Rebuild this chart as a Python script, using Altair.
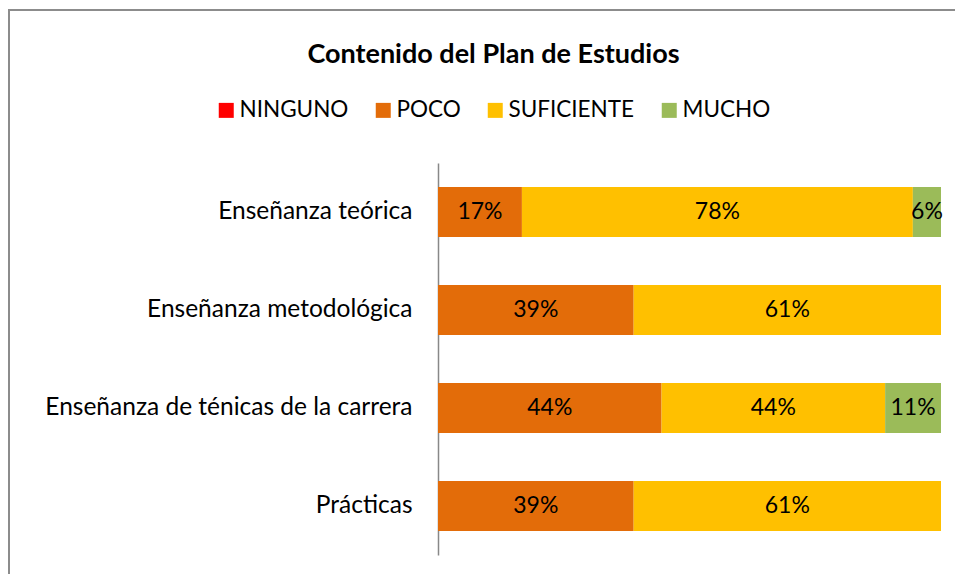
import altair as alt
import pandas as pd

categories = ["Enseñanza teórica", "Enseñanza metodológica",
              "Enseñanza de ténicas de la carrera", "Prácticas"]
levels = ["NINGUNO", "POCO", "SUFICIENTE", "MUCHO"]
colors = ["#FF0000", "#E36C09", "#FFC000", "#9BBB59"]
ninguno = [0, 0, 0, 0]
poco = [16.7, 38.9, 44.4, 38.9]
suficiente = [77.8, 61.1, 44.4, 61.1]
mucho = [5.6, 0, 11.1, 0]

rows = []
for i, c in enumerate(categories):
    for j, (lv, vals) in enumerate(zip(levels, [ninguno, poco, suficiente, mucho])):
        rows.append({"cat": c, "level": lv, "ord": j, "pct": vals[i]})
df = pd.DataFrame(rows)

FONT = "Lato"

base = alt.Chart(df).transform_filter("datum.pct > 0")

ycat = alt.Y("cat:N", sort=categories, title=None,
             scale=alt.Scale(paddingInner=0.49, paddingOuter=0.245),
             axis=alt.Axis(domainColor="#888888", domainWidth=1.5, ticks=False,
                           labelPadding=26, labelFontSize=24.5, labelFont=FONT,
                           labelColor="#000000", labelLimit=500))

bars = alt.Chart(df).mark_bar().encode(
    y=ycat,
    x=alt.X("pct:Q", stack="normalize", axis=None, scale=alt.Scale(domain=[0, 1])),
    color=alt.Color("level:N", sort=levels,
                    scale=alt.Scale(domain=levels, range=colors),
                    legend=alt.Legend(title=None, orient="none", direction="horizontal",
                                      legendX=-223, legendY=-64,
                                      symbolType="square", symbolSize=225,
                                      symbolStrokeWidth=0, symbolOpacity=1,
                                      labelFontSize=22.5, labelFont=FONT,
                                      labelColor="#000000", columnPadding=23,
                                      labelOffset=2)),
    order=alt.Order("ord:Q"),
)

labels = base.transform_stack(
    stack="pct", groupby=["cat"], as_=["x0", "x1"], sort=[alt.SortField("ord")],
    offset="normalize"
).transform_calculate(
    mid="(datum.x0 + datum.x1) / 2",
    lbl="format(datum.pct, '.0f') + '%'"
).mark_text(fontSize=23, font=FONT, color="#000000").encode(
    y=alt.Y("cat:N", sort=categories),
    x=alt.X("mid:Q"),
    text="lbl:N",
)

frame = alt.Chart(pd.DataFrame({"a": [0]})).mark_rect(
    fill=None, stroke="#8c8c8c", strokeWidth=2
).encode(x=alt.value(-429), x2=alt.value(700), y=alt.value(-153), y2=alt.value(600))

chart = alt.layer(frame, bars, labels).properties(
    width=503, height=392,
    autosize=alt.AutoSizeParams(type="none"),
    padding={"left": 430, "top": 155, "right": 14, "bottom": 19},
    title=alt.TitleParams("Contenido del Plan de Estudios", fontSize=27, fontWeight="bold",
                          font=FONT, color="#000000", anchor="middle", dx=-196, offset=-60),
).configure_view(stroke=None).configure_legend(labelLimit=300)

chart.save("out.html", embed_options={"renderer": "svg", "actions": False})
